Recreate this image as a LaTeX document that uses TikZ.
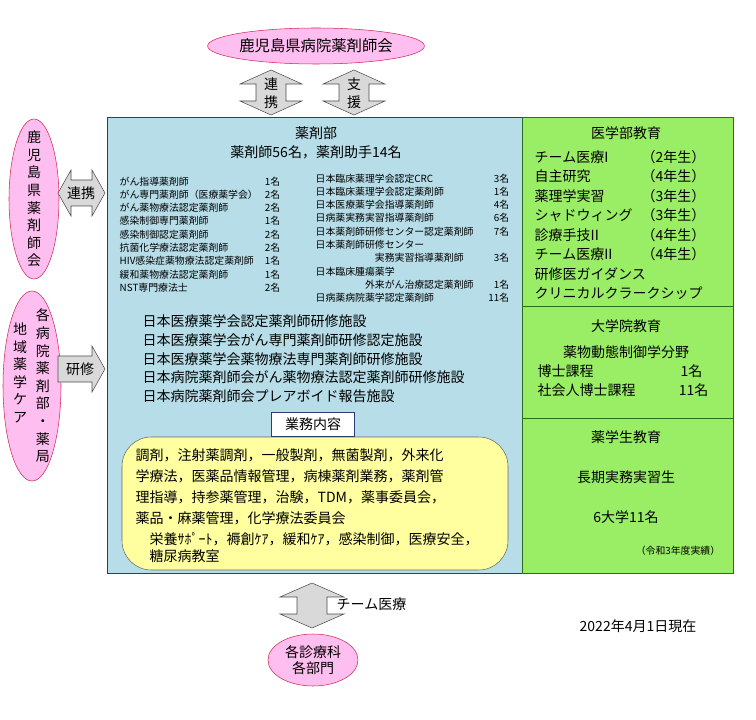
\documentclass[tikz,border=0pt]{standalone}
\usepackage{fontspec}
\setmainfont{Noto Sans CJK JP}
\usetikzlibrary{shapes.geometric}
\definecolor{mainblue}{RGB}{183,221,232}
\definecolor{edgeblue}{RGB}{40,60,120}
\definecolor{leaf}{RGB}{153,238,102}
\definecolor{leafedge}{RGB}{40,110,30}
\definecolor{pinkfill}{RGB}{255,190,240}
\definecolor{pinkedge}{RGB}{210,40,90}
\definecolor{cream}{RGB}{255,255,160}
\tikzset{
  oval/.style={ellipse,draw=pinkedge,fill=pinkfill,inner sep=0pt},
  blockarrow/.style={draw=black!70,fill=black!15},
  big/.style={font=\fontsize{10.5}{12.5}\selectfont},
  small/.style={font=\fontsize{7.4}{8}\selectfont},
  tall/.style={align=center,font=\fontsize{10.5}{13.2}\selectfont},
}
\begin{document}
\begin{tikzpicture}[x=0.75pt,y=-0.75pt]
    \useasboundingbox (0,0) rectangle (756,720);
    % main boxes
    \draw[edgeblue,fill=mainblue] (107,117) rectangle (522,573);
    \draw[leafedge,fill=leaf] (522,117) rectangle (733,306);
    \draw[leafedge,fill=leaf] (522,306) rectangle (733,418);
    \draw[leafedge,fill=leaf] (522,418) rectangle (733,573);
    % top
    \node[oval,minimum width=190*0.75pt,minimum height=36*0.75pt,font=\fontsize{11.5}{13}\selectfont] (kenbyo) at (316,46) {鹿児島県病院薬剤師会};
    \foreach \cx/\t in {271/連\\携,354/支\\援}{
      \draw[blockarrow] (\cx,70) -- (\cx-31,84) -- (\cx-15,84) -- (\cx-15,101) -- (\cx-31,101) -- (\cx,115)
        -- (\cx+31,101) -- (\cx+15,101) -- (\cx+15,84) -- (\cx+31,84) -- cycle;
      \node[tall] at (\cx,93) {\t};
    }
    % left
    \node[oval,minimum width=50*0.75pt,minimum height=160*0.75pt] (kenyaku) at (34,199) {};
    \node[tall] at (34,199) {鹿\\児\\島\\県\\薬\\剤\\師\\会};
    \draw[blockarrow] (58,193) -- (71,170) -- (71,180) -- (92,180) -- (92,170) -- (105,193)
      -- (92,216) -- (92,206) -- (71,206) -- (71,216) -- cycle;
    \node[big] at (81,193) {連携};
    \node[oval,minimum width=58*0.75pt,minimum height=190*0.75pt] (kakubyo) at (32,386) {};
    \node[tall] at (43,386) {各\\病\\院\\薬\\剤\\部\\・\\薬\\局};
    \node[tall,anchor=north] at (20,318) {地\\域\\薬\\学\\ケ\\ア};
    \draw[blockarrow] (58,356) -- (92,356) -- (92,346) -- (105,369) -- (92,392) -- (92,382) -- (58,382) -- cycle;
    \node[big] at (80,369) {研修};
    % pharmacy department
    \node[big] at (316,133) {薬剤部};
    \node[big] at (316,152) {薬剤師56名，薬剤助手14名};
    \foreach \t/\n [count=\i] in {がん指導薬剤師/1名,がん専門薬剤師（医療薬学会）/2名,がん薬物療法認定薬剤師/2名,
        感染制御専門薬剤師/1名,感染制御認定薬剤師/2名,抗菌化学療法認定薬剤師/2名,
        HIV感染症薬物療法認定薬剤師/1名,緩和薬物療法認定薬剤師/1名,NST専門療法士/2名}{
      \node[small,anchor=west] at (115,168+13.3*\i) {\t};
      \node[small,anchor=east] at (285,168+13.3*\i) {\n};
    }
    \foreach \t/\n [count=\i] in {日本臨床薬理学会認定CRC/3名,日本臨床薬理学会認定薬剤師/1名,日本医療薬学会指導薬剤師/4名,
        日病薬実務実習指導薬剤師/6名,日本薬剤師研修センター認定薬剤師/7名,日本薬剤師研修センター/,
        \hspace{6em}実務実習指導薬剤師/3名,日本臨床腫瘍薬学/,\hspace{5em}外来がん治療認定薬剤師/1名,日病薬病院薬学認定薬剤師/11名}{
      \node[small,anchor=west] at (311,165+13.3*\i) {\t};
      \node[small,anchor=east] at (514,165+13.3*\i) {\n};
    }
    \foreach \t [count=\i] in {日本医療薬学会認定薬剤師研修施設,日本医療薬学会がん専門薬剤師研修認定施設,
        日本医療薬学会薬物療法専門薬剤師研修施設,日本病院薬剤師会がん薬物療法認定薬剤師研修施設,
        日本病院薬剤師会プレアボイド報告施設}{
      \node[big,anchor=west] at (138,303+18.6*\i) {\t};
    }
    % duties
    \draw[black!60,fill=cream,rounded corners=22pt] (122,437) rectangle (508,570);
    \node[draw=edgeblue,fill=white,big,minimum width=83*0.75pt,minimum height=24*0.75pt] (gyomu) at (313,424) {業務内容};
    \node[big,anchor=north west,align=left,font=\fontsize{10.5}{15.75}\selectfont] at (131,444)
      {調剤，注射薬調剤，一般製剤，無菌製剤，外来化\\学療法，医薬品情報管理，病棟薬剤業務，薬剤管\\理指導，持参薬管理，治験，TDM，薬事委員会，\\薬品・麻薬管理，化学療法委員会};
    \node[big,anchor=north west,align=left] at (145,528)
      {栄養ｻﾎﾟｰﾄ，褥創ｹｱ，緩和ｹｱ，感染制御，医療安全，\\糖尿病教室};
    % education
    \node[big] at (626,133) {医学部教育};
    \foreach \t/\g [count=\i] in {チーム医療I/（2年生）,自主研究/（4年生）,薬理学実習/（3年生）,シャドウィング/（3年生）,
        診療手技II/（4年生）,チーム医療II/（4年生）,研修医ガイダンス/,クリニカルクラークシップ/}{
      \node[big,anchor=west] at (530,137.5+19.5*\i) {\t};
      \node[big,anchor=west] at (637,137.5+19.5*\i) {\g};
    }
    \node[big] at (626,326) {大学院教育};
    \node[big] at (626,352) {薬物動態制御学分野};
    \node[big,anchor=west] at (533,371) {博士課程};
    \node[big,anchor=east] at (707,371) {1名};
    \node[big,anchor=west] at (533,390) {社会人博士課程};
    \node[big,anchor=east] at (713,390) {11名};
    \node[big] at (626,437) {薬学生教育};
    \node[big] at (626,477) {長期実務実習生};
    \node[big] at (626,517) {6大学11名};
    \node[small] at (678,551) {（令和3年度実績）};
    % bottom
    \draw[blockarrow] (312,583) -- (280,597) -- (297,597) -- (297,614) -- (280,614) -- (312,628)
      -- (344,614) -- (327,614) -- (327,597) -- (344,597) -- cycle;
    \node[big,anchor=west] at (332,604) {チーム医療};
    \node[oval,minimum width=90*0.75pt,minimum height=52*0.75pt,align=center,big] (shinryo) at (313,660) {各診療科\\各部門};
    \node[big] at (638,626) {2022年4月1日現在};
\end{tikzpicture}
\end{document}
